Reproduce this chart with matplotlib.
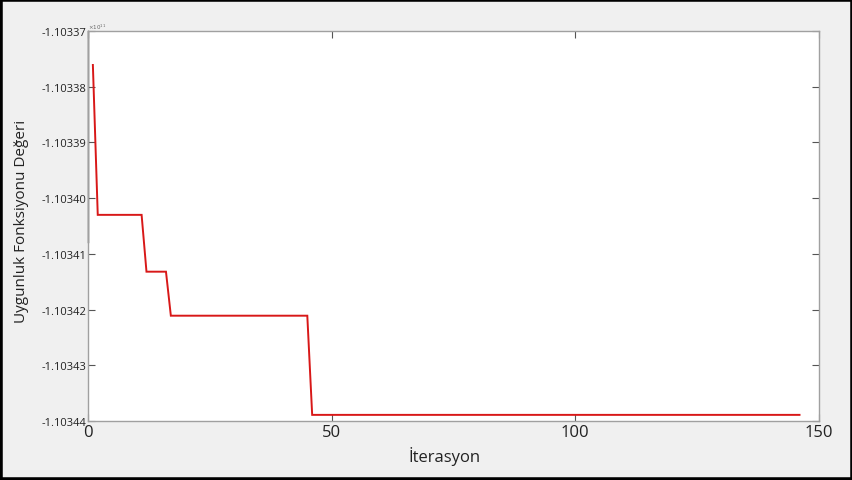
import matplotlib
matplotlib.use("Agg")
import matplotlib.pyplot as plt
from matplotlib.ticker import FuncFormatter
from matplotlib.patches import Rectangle

# Best fitness value per iteration (step levels of the optimisation run)
iter_breaks = [1, 2, 11, 12, 16, 17, 45, 46, 146]
fitness = [-1.1033761e11, -1.1034030e11, -1.1034030e11, -1.1034132e11,
           -1.1034132e11, -1.1034211e11, -1.1034211e11, -1.1034389e11,
           -1.1034389e11]
y_ticks = [-1.10344e11, -1.10343e11, -1.10342e11, -1.10341e11,
           -1.10340e11, -1.10339e11, -1.10338e11, -1.10337e11]
x_ticks = [0, 50, 100, 150]

plt.rcParams['font.family'] = ['Open Sans', 'DejaVu Sans']

fig = plt.figure(figsize=(8.53, 4.81), dpi=100)
fig.patch.set_facecolor('#f0f0f0')
W, H = 853, 481
ax = fig.add_axes([88 / W, 1 - 422 / H, (819 - 88) / W, (422 - 32) / H])
ax.set_facecolor('white')

ax.plot(iter_breaks, fitness, color='#d81818', linewidth=1.4, solid_joinstyle='miter')

ax.set_xlim(0, 150)
ax.set_ylim(y_ticks[0], y_ticks[-1])
ax.set_xticks(x_ticks)
ax.set_yticks(y_ticks)
ax.yaxis.set_major_formatter(FuncFormatter(lambda v, p: f"{v / 1e11:.5f}"))

ax.tick_params(axis='both', direction='in', length=5, width=0.8, color='#555555',
               top=True, right=True)
ax.tick_params(axis='y', labelsize=8, pad=1, labelcolor='#222222')
ax.tick_params(axis='x', labelsize=12, pad=2, labelcolor='#222222')
for s in ax.spines.values():
    s.set_color('#a0a0a0')
    s.set_linewidth(1.0)

# darker upper part of the left frame
ax.axvline(0, ymin=0.459, ymax=1, color='#333333', linewidth=1.0, clip_on=False)

ax.text(0.0, 1.0, r'$\times10^{11}$', transform=ax.transAxes, fontsize=4,
        color='#666666', ha='left', va='bottom')

ax.set_xlabel('İterasyon', fontsize=12, color='#222222')
ax.xaxis.set_label_coords((445 - 88) / (819 - 88), -(457 - 422) / (422 - 32))
ax.xaxis.label.set_va('center')
ax.set_ylabel('Uygunluk Fonksiyonu Değeri', fontsize=11, color='#222222')
ax.yaxis.label.set_va('center')
ax.yaxis.set_label_coords(-(88 - 22) / (819 - 88), (422 - 221) / (422 - 32))

# outer frame
fig.add_artist(Rectangle((0, 0), 1, 1, transform=fig.transFigure, fill=False,
                         edgecolor='black', linewidth=4))

fig.savefig('out.png', dpi=100, facecolor=fig.get_facecolor())
